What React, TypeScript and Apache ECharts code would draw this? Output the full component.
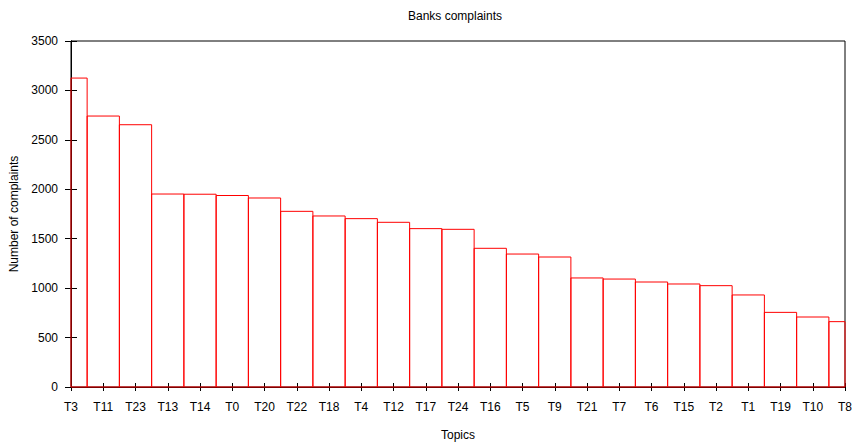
import React, { useEffect, useRef } from "react";
import * as echarts from "echarts";

const categories = ["T3","T11","T23","T13","T14","T0","T20","T22","T18","T4","T12","T17","T24","T16","T5","T9","T21","T7","T6","T15","T2","T1","T19","T10","T8"];
const complaints = [3125,2741,2653,1952,1950,1937,1912,1777,1730,1703,1666,1602,1595,1403,1345,1315,1103,1092,1062,1042,1025,931,755,708,661];
const yTicks = { min: 0, max: 3500, interval: 500 };

export default function App() {
  const ref = useRef<HTMLDivElement>(null);
  useEffect(() => {
    const chart = echarts.init(ref.current!, null, { renderer: "svg" });
    const font = "Liberation Sans, Arial, sans-serif";
    const data = complaints.map((v, i) => [i, v]);
    const tick = (len: number) => ({ show: true, inside: true, length: len, lineStyle: { color: "#000", width: 1 } });
    chart.setOption({
      animation: false,
      backgroundColor: "#fff",
      title: {
        text: "Banks complaints",
        left: 450,
        top: 5,
        textAlign: "center",
        textStyle: { fontFamily: font, fontSize: 12, fontWeight: "normal", color: "#000" },
      },
      grid: { left: 71, right: 7, top: 41, bottom: 58, show: true, borderColor: "#000", borderWidth: 1, containLabel: false, outerBoundsMode: "none" },
      xAxis: [
        {
          type: "value", min: 0, max: categories.length - 1, interval: 1,
          name: "Topics", nameLocation: "middle", nameGap: 42,
          nameTextStyle: { fontFamily: font, fontSize: 12, color: "#000" },
          axisLine: { show: true, lineStyle: { color: "#000" } },
          axisTick: tick(4),
          axisLabel: { fontFamily: font, fontSize: 12, color: "#000", margin: 14, formatter: (v: number) => categories[v] ?? "", showMinLabel: true, showMaxLabel: true },
          splitLine: { show: false },
        },
        {
          type: "value", position: "top", min: 0, max: categories.length - 1, interval: 1,
          axisLine: { show: true, lineStyle: { color: "#000" } },
          axisTick: tick(4),
          axisLabel: { show: false },
          splitLine: { show: false },
        },
      ],
      yAxis: [
        {
          type: "value", ...yTicks,
          name: "Number of complaints", nameLocation: "middle", nameGap: 51,
          nameTextStyle: { fontFamily: font, fontSize: 12, color: "#000" },
          axisLine: { show: true, lineStyle: { color: "#000" } },
          axisTick: tick(6),
          axisLabel: { fontFamily: font, fontSize: 12, color: "#000", margin: 13, formatter: (v: number) => String(v) },
          splitLine: { show: false },
        },
        {
          type: "value", position: "right", ...yTicks,
          axisLine: { show: true, lineStyle: { color: "#000" } },
          axisTick: tick(6),
          axisLabel: { show: false },
          splitLine: { show: false },
        },
      ],
      series: [
        {
          type: "custom",
          xAxisIndex: 0,
          yAxisIndex: 0,
          data,
          renderItem: (params: any, api: any) => {
            const i = api.value(0);
            const v = api.value(1);
            const p0 = api.coord([i - 0.5, v]);
            const p1 = api.coord([i + 0.5, 0]);
            const cs = params.coordSys;
            const shape = echarts.graphic.clipRectByRect(
              { x: p0[0], y: p0[1], width: p1[0] - p0[0], height: p1[1] - p0[1] },
              { x: cs.x, y: cs.y, width: cs.width, height: cs.height }
            );
            if (!shape) return null;
            return {
              type: "rect",
              shape,
              style: { fill: "none", stroke: "#ff0000", lineWidth: 1 },
            };
          },
        },
      ],
    });
    return () => chart.dispose();
  }, []);
  return <div ref={ref} style={{ width: 852, height: 445, position: "absolute", left: 0, top: 0 }} />;
}
